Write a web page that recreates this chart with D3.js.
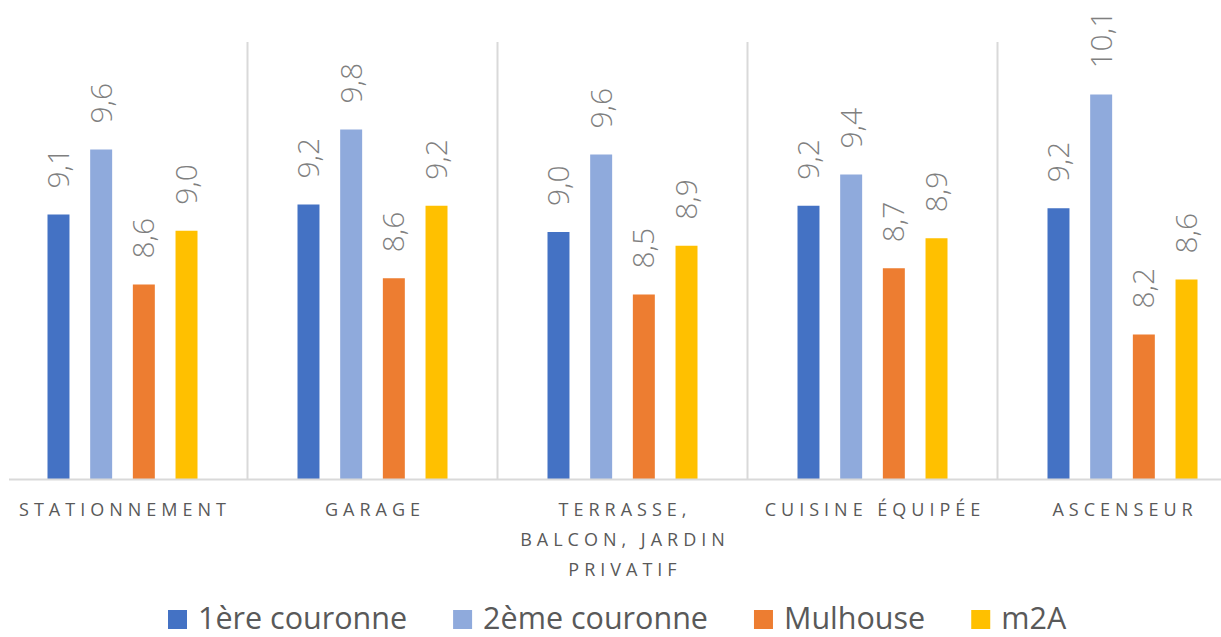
<!DOCTYPE html>
<html>
<head>
<meta charset="utf-8">
<script src="https://cdn.jsdelivr.net/npm/d3@7"></script>
<style>
  body { margin: 0; background: #fff; }
  svg { display: block; font-family: "Open Sans", sans-serif; }
</style>
</head>
<body>
<svg id="chart" width="1221" height="637"></svg>
<script>
// categories (label lines) and series values
var categories = ["Stationnement", "Garage", "Terrasse, balcon, jardin privatif", "Cuisine équipée", "Ascenseur"];
var categoryLines = [["STATIONNEMENT"], ["GARAGE"], ["TERRASSE,", "BALCON, JARDIN", "PRIVATIF"], ["CUISINE ÉQUIPÉE"], ["ASCENSEUR"]];
var seriesNames = ["1ère couronne", "2ème couronne", "Mulhouse", "m2A"];
var seriesColors = ["#4472C4", "#8FAADC", "#ED7D31", "#FFC000"];
var premiereCouronne = [9.12, 9.20, 8.98, 9.19, 9.17];
var deuxiemeCouronne = [9.64, 9.80, 9.60, 9.44, 10.08];
var mulhouse = [8.56, 8.61, 8.48, 8.69, 8.16];
var m2A = [8.99, 9.19, 8.87, 8.93, 8.60];
var yDomain = [7, 10.5];

var seriesValues = [premiereCouronne, deuxiemeCouronne, mulhouse, m2A];
var svg = d3.select("#chart");

var plot = { left: -2.5, right: 1247.5, top: 42, bottom: 479.5 };

var x = d3.scaleBand().domain(categories).range([plot.left, plot.right]).paddingInner(0).paddingOuter(0);
var x1 = d3.scaleBand().domain(seriesNames).range([50, 200]).paddingInner(0.485).paddingOuter(0);
var y = d3.scaleLinear().domain(yDomain).range([plot.bottom, plot.top]);

// category separators
svg.append("g").selectAll("line")
    .data(categories.slice(1))
    .join("line")
    .attr("x1", function (d) { return x(d); })
    .attr("x2", function (d) { return x(d); })
    .attr("y1", plot.top)
    .attr("y2", plot.bottom)
    .attr("stroke", "#d9d9d9")
    .attr("stroke-width", 2);

// flatten to one record per bar
var bars = [];
categories.forEach(function (c, i) {
    seriesNames.forEach(function (s, j) {
        bars.push({ cat: c, series: s, value: seriesValues[j][i], color: seriesColors[j] });
    });
});

svg.append("g").selectAll("rect")
    .data(bars)
    .join("rect")
    .attr("x", function (d) { return x(d.cat) + x1(d.series); })
    .attr("width", x1.bandwidth())
    .attr("y", function (d) { return y(d.value); })
    .attr("height", function (d) { return plot.bottom - y(d.value); })
    .attr("fill", function (d) { return d.color; });

// data labels, rotated
svg.append("g").selectAll("text")
    .data(bars)
    .join("text")
    .attr("transform", function (d) {
        var cx = x(d.cat) + x1(d.series) + x1.bandwidth() / 2;
        return "translate(" + cx + "," + (y(d.value) - 26) + ") rotate(-90)";
    })
    .attr("dy", "0.35em")
    .attr("font-size", 30)
    .attr("font-weight", 300)
    .attr("fill", "#7f7f7f")
    .text(function (d) { return d.value.toFixed(1).replace(".", ","); });

// axis line
svg.append("line")
    .attr("x1", 9).attr("x2", 1221)
    .attr("y1", plot.bottom).attr("y2", plot.bottom)
    .attr("stroke", "#d9d9d9")
    .attr("stroke-width", 2);

// category labels
var catLabels = svg.append("g").selectAll("text")
    .data(categories)
    .join("text")
    .attr("x", function (d) { return x(d) + x.bandwidth() / 2 + 2.5; })
    .attr("y", 516)
    .attr("text-anchor", "middle")
    .attr("font-size", 18)
    .attr("letter-spacing", "5px")
    .attr("fill", "#595959");

catLabels.selectAll("tspan")
    .data(function (d, i) { return categoryLines[i]; })
    .join("tspan")
    .attr("x", function () { return d3.select(this.parentNode).attr("x"); })
    .attr("dy", function (d, i) { return i === 0 ? 0 : 30; })
    .text(function (d) { return d; });

// legend (kept just inside the bottom edge)
var legend = svg.append("g");
var lx = 168;
seriesNames.forEach(function (s, j) {
    legend.append("rect")
        .attr("x", lx).attr("y", 610)
        .attr("width", 19).attr("height", 19)
        .attr("fill", seriesColors[j]);
    var t = legend.append("text")
        .attr("x", lx + 30).attr("y", 629)
        .attr("font-size", 30.5)
        .attr("fill", "#595959")
        .text(s);
    lx += 30 + t.node().getComputedTextLength() + 46;
});
</script>
</body>
</html>
